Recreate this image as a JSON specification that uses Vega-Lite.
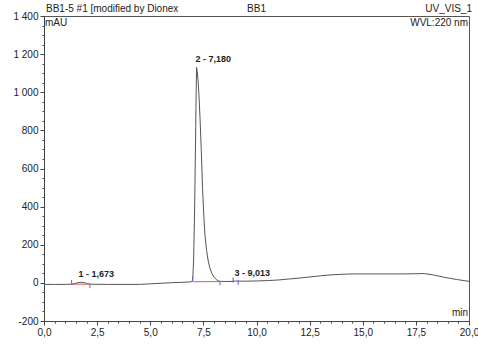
{
  "$schema": "https://vega.github.io/schema/vega-lite/v6.json",
  "width": 425,
  "height": 305,
  "autosize": "none",
  "padding": {"left": 44, "top": 16, "right": 9, "bottom": 23},
  "background": "white",
  "config": {
    "font": "Liberation Sans",
    "view": {"stroke": "#555", "strokeWidth": 1},
    "axis": {
      "grid": false,
      "title": null,
      "domainColor": "#444",
      "tickColor": "#444",
      "labelColor": "#222",
      "labelFont": "Liberation Sans",
      "labelFontSize": 10,
      "labelOverlap": false,
      "labelFlush": false,
      "labelPadding": 2
    }
  },
  "resolve": {"axis": {"x": "independent", "y": "independent"}},
  "datasets": {
    "signal": [
      {"t": 0.0, "v": -8}, {"t": 0.5, "v": -8}, {"t": 1.0, "v": -8}, {"t": 1.3, "v": -7},
      {"t": 1.45, "v": -3}, {"t": 1.6, "v": 1}, {"t": 1.75, "v": 3}, {"t": 1.9, "v": 1},
      {"t": 2.05, "v": -4}, {"t": 2.2, "v": -7}, {"t": 3.0, "v": -8}, {"t": 4.0, "v": -8},
      {"t": 4.5, "v": -8}, {"t": 5.0, "v": -5}, {"t": 5.5, "v": -2}, {"t": 6.0, "v": 1},
      {"t": 6.5, "v": 3}, {"t": 6.9, "v": 5}, {"t": 6.97, "v": 8}, {"t": 7.0, "v": 20},
      {"t": 7.04, "v": 120}, {"t": 7.08, "v": 330}, {"t": 7.11, "v": 560}, {"t": 7.14, "v": 820},
      {"t": 7.16, "v": 1000}, {"t": 7.18, "v": 1130}, {"t": 7.21, "v": 1110}, {"t": 7.25, "v": 1060},
      {"t": 7.29, "v": 990}, {"t": 7.34, "v": 870}, {"t": 7.4, "v": 700}, {"t": 7.46, "v": 500},
      {"t": 7.52, "v": 350}, {"t": 7.58, "v": 245}, {"t": 7.65, "v": 170}, {"t": 7.72, "v": 120},
      {"t": 7.8, "v": 80}, {"t": 7.9, "v": 50}, {"t": 8.0, "v": 30}, {"t": 8.1, "v": 18},
      {"t": 8.2, "v": 11}, {"t": 8.3, "v": 8}, {"t": 8.6, "v": 7}, {"t": 8.9, "v": 8},
      {"t": 9.0, "v": 10}, {"t": 9.1, "v": 9}, {"t": 9.5, "v": 9}, {"t": 10.0, "v": 10},
      {"t": 10.5, "v": 12}, {"t": 11.0, "v": 15}, {"t": 11.5, "v": 20}, {"t": 12.0, "v": 25},
      {"t": 12.5, "v": 31}, {"t": 13.0, "v": 37}, {"t": 13.5, "v": 42}, {"t": 14.0, "v": 45},
      {"t": 14.5, "v": 47}, {"t": 15.0, "v": 47}, {"t": 16.0, "v": 47}, {"t": 17.0, "v": 47},
      {"t": 17.5, "v": 48}, {"t": 17.9, "v": 49}, {"t": 18.3, "v": 42}, {"t": 18.8, "v": 30},
      {"t": 19.4, "v": 18}, {"t": 20.0, "v": 8}
    ],
    "baselines": [
      {"t": 1.3, "t2": 2.16, "v": -7, "v2": -7},
      {"t": 7.0, "t2": 8.28, "v": 6, "v2": 7}
    ],
    "delimiters": [
      {"t": 1.3, "v": -7, "v2": 16},
      {"t": 2.16, "v": -7, "v2": -26},
      {"t": 7.0, "v": 6, "v2": 32},
      {"t": 8.28, "v": 7, "v2": -12},
      {"t": 8.9, "v": 2, "v2": 28},
      {"t": 9.14, "v": -10, "v2": 15}
    ],
    "peaks": [
      {"t": 1.673, "v": 3, "label": "1 - 1,673"},
      {"t": 7.18, "v": 1130, "label": "2 - 7,180"},
      {"t": 9.013, "v": 10, "label": "3 - 9,013"}
    ],
    "single": [{}]
  },
  "layer": [
    {
      "data": {"name": "signal"},
      "mark": {"type": "line", "color": "#555", "strokeWidth": 1, "clip": true},
      "encoding": {
        "x": {
          "field": "t", "type": "quantitative",
          "scale": {"domain": [0, 20], "nice": false, "zero": false},
          "axis": {
            "orient": "bottom",
            "values": [0, 2.5, 5, 7.5, 10, 12.5, 15, 17.5, 20],
            "labelExpr": "replace(format(datum.value, '.1f'), '.', ',')",
            "tickSize": 4,
            "labelOverlap": false,
            "title": null
          }
        },
        "y": {
          "field": "v", "type": "quantitative",
          "scale": {"domain": [-200, 1400], "nice": false, "zero": false},
          "axis": {
            "orient": "left",
            "values": [-200, 0, 200, 400, 600, 800, 1000, 1200, 1400],
            "labelExpr": "datum.value < 0 ? '-' + format(-datum.value, 'd') : replace(format(datum.value, ','), ',', ' ')",
            "tickSize": 4,
            "labelOverlap": false,
            "title": null
          }
        }
      }
    },
    {
      "data": {"name": "baselines"},
      "mark": {"type": "rule", "color": "#e05a5a", "strokeWidth": 1},
      "encoding": {
        "x": {
          "field": "t", "type": "quantitative",
          "axis": {
            "orient": "bottom",
            "values": [0.5, 1, 1.5, 2, 3, 3.5, 4, 4.5, 5.5, 6, 6.5, 7, 8, 8.5, 9, 9.5, 10.5, 11, 11.5, 12, 13, 13.5, 14, 14.5, 15.5, 16, 16.5, 17, 18, 18.5, 19, 19.5],
            "labels": false,
            "domain": false,
            "tickSize": 2,
            "title": null
          }
        },
        "x2": {"field": "t2"},
        "y": {
          "field": "v", "type": "quantitative",
          "axis": {
            "orient": "left",
            "values": [-150, -100, -50, 50, 100, 150, 250, 300, 350, 450, 500, 550, 650, 700, 750, 850, 900, 950, 1050, 1100, 1150, 1250, 1300, 1350],
            "labels": false,
            "domain": false,
            "tickSize": 2,
            "title": null
          }
        },
        "y2": {"field": "v2"}
      }
    },
    {
      "data": {"name": "delimiters"},
      "mark": {"type": "rule", "color": "#5c5cd8", "strokeWidth": 1},
      "encoding": {
        "x": {"field": "t", "type": "quantitative", "axis": null},
        "y": {"field": "v", "type": "quantitative", "axis": null},
        "y2": {"field": "v2"}
      }
    },
    {
      "data": {"name": "peaks"},
      "mark": {"type": "text", "align": "left", "baseline": "bottom", "dy": -3, "dx": -1, "fontSize": 9, "fontWeight": "bold", "color": "#222"},
      "encoding": {
        "x": {"field": "t", "type": "quantitative", "axis": null},
        "y": {"field": "v", "type": "quantitative", "axis": null},
        "text": {"field": "label"}
      }
    },
    {
      "data": {"name": "single"},
      "mark": {"type": "text", "align": "left", "baseline": "bottom", "dx": 2, "dy": -2, "fontSize": 10, "color": "#222"},
      "encoding": {"x": {"datum": 0, "axis": null}, "y": {"datum": 1400, "axis": null}, "text": {"value": "BB1-5 #1 [modified by Dionex"}}
    },
    {
      "data": {"name": "single"},
      "mark": {"type": "text", "align": "center", "baseline": "bottom", "dy": -2, "fontSize": 10, "color": "#222"},
      "encoding": {"x": {"datum": 10, "axis": null}, "y": {"datum": 1400, "axis": null}, "text": {"value": "BB1"}}
    },
    {
      "data": {"name": "single"},
      "mark": {"type": "text", "align": "right", "baseline": "bottom", "dy": -2, "dx": 3, "fontSize": 10, "color": "#222"},
      "encoding": {"x": {"datum": 20, "axis": null}, "y": {"datum": 1400, "axis": null}, "text": {"value": "UV_VIS_1"}}
    },
    {
      "data": {"name": "single"},
      "mark": {"type": "text", "align": "left", "baseline": "top", "dx": 1, "dy": 2, "fontSize": 10, "color": "#222"},
      "encoding": {"x": {"datum": 0, "axis": null}, "y": {"datum": 1400, "axis": null}, "text": {"value": "mAU"}}
    },
    {
      "data": {"name": "single"},
      "mark": {"type": "text", "align": "right", "baseline": "top", "dx": -1, "dy": 2, "fontSize": 10, "color": "#222"},
      "encoding": {"x": {"datum": 20, "axis": null}, "y": {"datum": 1400, "axis": null}, "text": {"value": "WVL:220 nm"}}
    },
    {
      "data": {"name": "single"},
      "mark": {"type": "text", "align": "right", "baseline": "bottom", "dx": -1, "dy": -3, "fontSize": 10, "color": "#222"},
      "encoding": {"x": {"datum": 20, "axis": null}, "y": {"datum": -200, "axis": null}, "text": {"value": "min"}}
    }
  ]
}
